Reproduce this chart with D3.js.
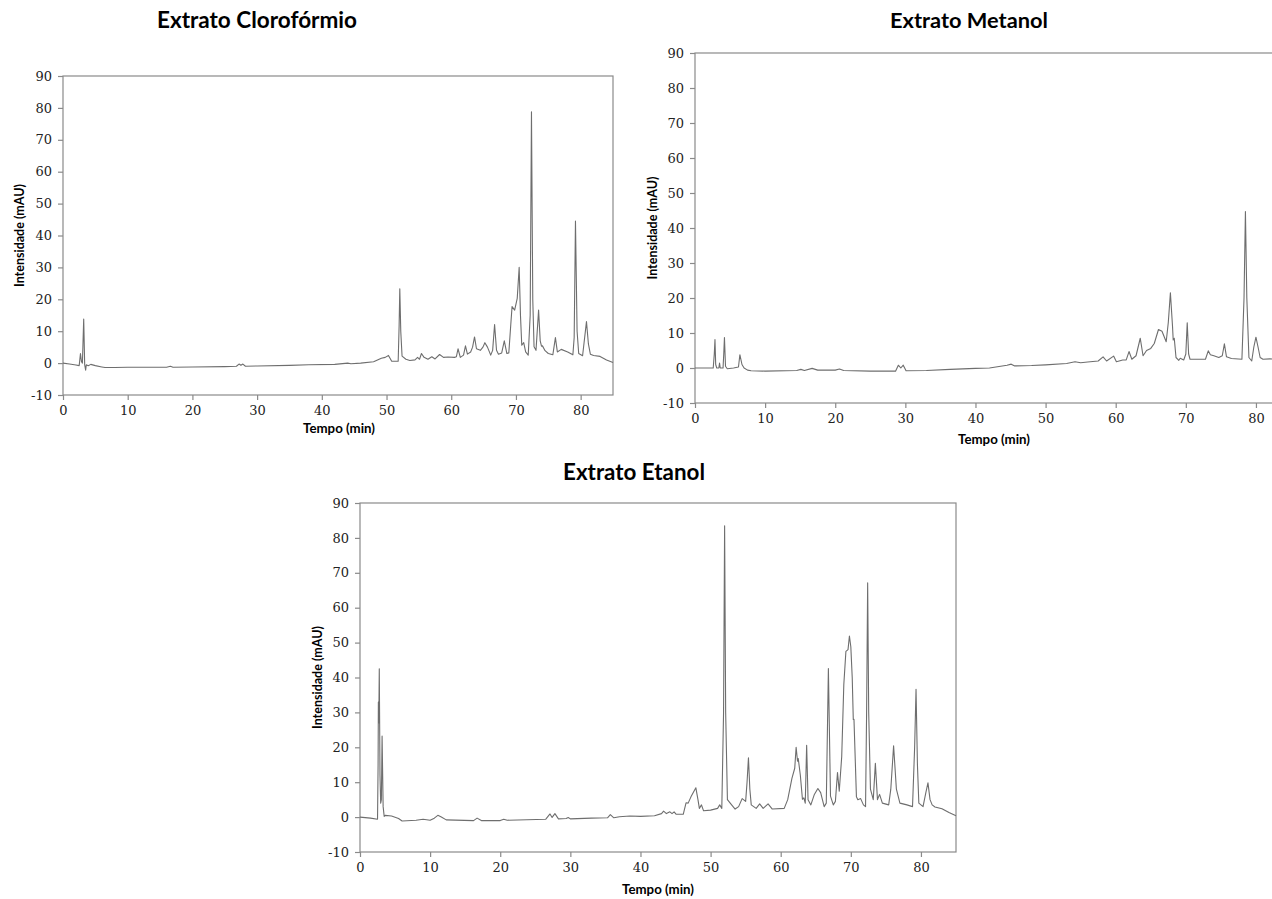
<!DOCTYPE html>
<html><head><meta charset="utf-8">
<script src="https://cdn.jsdelivr.net/npm/d3@7"></script>
<style>
html,body{margin:0;padding:0;background:#fff;overflow:hidden;}
svg{display:block;}
.tk text{font-family:"DejaVu Serif","Liberation Serif",serif;font-size:13px;fill:#222;}
</style></head>
<body>
<svg id="c" width="1272" height="899"></svg>
<script>
// ---------- data (time in min, intensity in mAU) ----------
const xTicks = [0,10,20,30,40,50,60,70,80];
const yTicks = [-10,0,10,20,30,40,50,60,70,80,90];
const titles = ["Extrato Clorofórmio","Extrato Metanol","Extrato Etanol"];
const xLabel = "Tempo (min)";
const yLabel = "Intensidade (mAU)";

const cloroformio = [[0,0],[1,-0.3],[2,-0.6],[2.5,-0.8],[2.7,3],[2.85,0.5],[3.0,0],[3.2,13.8],[3.35,-0.5],[3.5,-2.2],[3.6,-0.5],[3.9,-0.8],[4.3,-0.4],[5,-0.8],[6,-1.2],[6.5,-1.4],[8,-1.4],[10,-1.3],[12,-1.3],[16,-1.3],[16.6,-1.0],[17,-1.3],[20,-1.2],[25,-1.1],[26.8,-1.0],[27.2,-0.3],[27.5,-0.7],[27.8,-0.3],[28.2,-1.0],[30,-0.9],[35,-0.7],[38,-0.5],[42,-0.4],[44,0],[44.5,-0.2],[46,0],[48,0.4],[49.2,1.5],[49.8,1.8],[50.3,2.4],[50.8,0.6],[51.8,0.6],[51.95,12],[52.05,23.3],[52.2,10],[52.4,2.2],[53,1.2],[53.6,0.8],[54.4,1.0],[54.8,1.8],[55.1,1.2],[55.4,3.0],[55.8,1.8],[56.4,1.2],[57.0,2.0],[57.5,1.3],[58.2,2.7],[58.8,1.8],[59.5,1.9],[60.5,1.8],[60.8,2.0],[61.05,4.5],[61.4,1.8],[61.9,2.5],[62.2,5.4],[62.5,2.8],[63.0,3.5],[63.3,5.0],[63.6,8.2],[63.9,4.5],[64.5,4.0],[64.9,5.0],[65.2,6.4],[65.6,5.0],[66.1,2.5],[66.4,4],[66.7,12.1],[67.0,4.0],[67.3,2.8],[67.8,3.2],[68.2,7.0],[68.6,3.0],[68.9,3.2],[69.2,12],[69.4,17.7],[69.8,16.6],[70.2,20.3],[70.5,30.0],[70.7,15],[70.9,5.6],[71.2,6.4],[71.5,3.5],[71.9,2.5],[72.2,15],[72.4,78.8],[72.6,20],[72.8,5.1],[73.1,4.0],[73.5,16.6],[73.75,7],[73.95,5.3],[74.1,5.4],[74.5,3.9],[75,3.0],[75.7,2.6],[76.1,8.0],[76.4,3.5],[77.0,4.3],[78,3.5],[78.8,2.6],[79.0,8],[79.2,44.5],[79.45,10],[79.7,3.0],[80.3,2.3],[80.9,13.0],[81.2,6],[81.5,2.8],[82,2.4],[83,2.1],[84,1.0],[85,0.2]];

const metanol = [[0,0],[2.6,0],[2.75,4],[2.85,8.1],[2.95,1],[3.1,0],[3.4,0],[3.5,1.4],[3.6,0],[4.0,0],[4.1,4],[4.2,8.7],[4.35,0.5],[4.6,-0.2],[5.5,0],[6.2,0.3],[6.4,3.8],[6.7,1],[7.0,0],[7.5,-0.6],[8,-0.8],[10,-0.9],[14.5,-0.7],[15.1,-0.4],[15.6,-0.7],[16.7,-0.1],[17.5,-0.6],[20,-0.6],[20.6,-0.3],[21.2,-0.7],[25,-0.9],[28.6,-0.9],[29.0,0.8],[29.35,0.0],[29.7,0.8],[30.1,-0.8],[33,-0.7],[36.4,-0.4],[40,-0.1],[42,0],[44.5,0.8],[45.1,1.1],[45.6,0.6],[48,0.7],[50,0.9],[53,1.3],[54.2,1.8],[55,1.5],[56,1.7],[57.5,2.0],[58.2,3.2],[58.7,2.0],[59.7,3.4],[60.1,1.8],[61.0,2.3],[61.5,2.3],[61.9,4.7],[62.3,2.5],[62.9,3.5],[63.5,8.5],[63.9,3.5],[64.4,5.0],[65.0,5.6],[65.5,7.0],[66.1,11.0],[66.6,10.5],[67.2,7.5],[67.5,13],[67.8,21.5],[68.1,12],[68.2,8.0],[68.35,8.5],[68.6,3.0],[69.0,2.2],[69.2,2.8],[69.7,2.3],[70.0,4],[70.2,12.9],[70.4,4],[70.6,2.5],[72.8,2.5],[73.2,4.9],[73.5,3.8],[74.0,3.5],[74.7,3.0],[75.2,3.5],[75.5,6.9],[75.8,3.2],[76.5,2.7],[78.0,2.5],[78.3,20],[78.5,44.7],[78.7,20],[79.0,3.0],[79.4,2.0],[79.7,6],[80.0,8.8],[80.3,6],[80.6,3.0],[81,2.5],[82,2.6],[83,2.5],[85,2.3]];

const etanol = [[0,0],[1.5,-0.3],[2.5,-0.6],[2.58,15],[2.62,33],[2.68,27],[2.75,42.5],[2.85,12],[2.95,4],[3.05,5],[3.15,23.2],[3.3,3],[3.45,0.2],[3.6,0.5],[4.5,0.3],[5.5,-0.4],[6.0,-1.1],[8,-0.9],[9.0,-0.6],[10,-0.9],[10.6,-0.3],[11.1,0.5],[11.6,0],[12.3,-0.8],[16.2,-1.0],[16.7,-0.3],[17.3,-1.0],[20,-1.0],[20.5,-0.6],[21,-0.9],[26.5,-0.6],[27.1,0.9],[27.4,-0.1],[27.8,1.0],[28.3,-0.5],[29.4,-0.4],[29.7,-0.1],[30,-0.5],[33,-0.3],[35.3,-0.2],[35.7,0.7],[36.2,-0.2],[37,0.1],[38.5,0.3],[40,0.2],[42,0.4],[43.0,1.0],[43.3,1.7],[43.7,1.0],[44.2,1.5],[44.5,1.0],[44.8,1.5],[45.1,0.8],[46.1,0.8],[46.5,4.1],[46.8,4],[47.2,5.8],[47.9,8.4],[48.2,5],[48.4,2.5],[48.7,3.5],[49.0,1.8],[50,2.0],[51,2.5],[51.3,3.5],[51.6,2.5],[51.85,30],[52.0,83.5],[52.15,30],[52.4,5.0],[53,3.5],[53.5,2.3],[54,3.0],[54.5,5.3],[55,4.5],[55.2,10],[55.4,17.0],[55.6,8],[55.8,3.5],[56.5,2.5],[57,3.8],[57.5,2.5],[58.2,3.8],[58.8,2.3],[60.5,2.5],[61.0,5],[61.6,11.1],[62.0,14],[62.2,20.0],[62.4,16],[62.5,16.8],[62.8,12],[63.1,5.1],[63.3,5.5],[63.5,4.0],[63.7,20.6],[63.9,5],[64.3,3.5],[64.8,6.5],[65.3,8.2],[65.7,7],[66.2,3],[66.5,4],[66.8,42.6],[67.1,6],[67.5,3.5],[67.8,4.5],[68.1,12.8],[68.35,7.4],[68.7,17.3],[69.0,38],[69.3,47.5],[69.6,48.0],[69.8,51.9],[70.0,48.8],[70.2,40],[70.35,28],[70.45,28],[70.8,5.8],[71.0,5],[71.4,5.3],[71.8,3.5],[72.1,3],[72.25,30],[72.4,67.1],[72.55,30],[72.8,8],[73.2,5],[73.5,15.4],[73.8,5],[74.1,6.5],[74.5,4],[75.4,3.5],[75.7,8],[76.1,20.4],[76.5,8],[77,4],[78,3.5],[78.8,3],[79.1,20],[79.3,36.6],[79.5,15],[79.7,4],[80.3,3],[80.7,7],[81.0,9.8],[81.3,5],[81.6,3.5],[82,2.9],[83,2.4],[84,1.3],[85,0.4]];

// ---------- layout ----------
const panels = [
  {data: cloroformio, title: titles[0], L:63, R:613, T:76, B:395, titleX:257, titleY:28, titleW:200, xlabX:339, xlabY:433, ylabX:20},
  {data: metanol,     title: titles[1], L:695, R:1291, T:53, B:403, titleX:969, titleY:28, titleW:158, xlabX:994, xlabY:444, ylabX:653},
  {data: etanol,      title: titles[2], L:360, R:956, T:503, B:852, titleX:634, titleY:480, titleW:142, xlabX:658, xlabY:894, ylabX:318}
];

const svg = d3.select("#c");
const lineColor = "#6e6e6e", axisColor = "#8a8a8a";

function fitText(sel, w){
  const len = sel.node().getComputedTextLength();
  const fs = parseFloat(sel.attr("font-size"));
  sel.attr("font-size", (fs*w/len).toFixed(2));
}

panels.forEach(p=>{
  const g = svg.append("g");
  const x = d3.scaleLinear().domain([0,85]).range([p.L,p.R]);
  const y = d3.scaleLinear().domain([-10,90]).range([p.B,p.T]);

  g.append("rect").attr("x",p.L).attr("y",p.T).attr("width",p.R-p.L).attr("height",p.B-p.T)
    .attr("fill","none").attr("stroke",axisColor).attr("stroke-width",1.2);

  const fmt = d => String(d);
  const xa = g.append("g").attr("class","tk").attr("transform",`translate(0,${p.B})`)
    .call(d3.axisBottom(x).tickValues(xTicks).tickSize(5).tickPadding(6).tickFormat(fmt));
  const ya = g.append("g").attr("class","tk").attr("transform",`translate(${p.L},0)`)
    .call(d3.axisLeft(y).tickValues(yTicks).tickSize(5).tickPadding(6).tickFormat(fmt));
  [xa,ya].forEach(a=>{
    a.attr("font-family",null).attr("font-size",null);
    a.select(".domain").remove();
    a.selectAll(".tick line").attr("stroke",axisColor).attr("stroke-width",1.2);
  });

  const line = d3.line().x(d=>x(d[0])).y(d=>y(d[1]));
  g.append("path").datum(p.data).attr("d",line).attr("fill","none")
    .attr("stroke",lineColor).attr("stroke-width",1.1).attr("stroke-linejoin","round");

  const t = g.append("text").attr("x",p.titleX).attr("y",p.titleY).attr("text-anchor","middle")
    .attr("font-family","Lato, 'Open Sans', sans-serif").attr("font-weight","bold").attr("font-size",20)
    .attr("fill","#000").text(p.title);
  fitText(t,p.titleW);

  const xl = g.append("text").attr("x",p.xlabX).attr("y",p.xlabY)
    .attr("text-anchor","middle").attr("font-family","Lato, 'Open Sans', sans-serif").attr("font-weight","bold")
    .attr("font-size",12).attr("fill","#000").text(xLabel);
  fitText(xl,72);

  const yl = g.append("text").attr("transform",`translate(${p.ylabX+4},${(p.T+p.B)/2})rotate(-90)`)
    .attr("text-anchor","middle").attr("font-family","Lato, 'Open Sans', sans-serif").attr("font-weight","bold")
    .attr("font-size",12).attr("fill","#000").text(yLabel);
  fitText(yl,103);
});
</script>
</body></html>
